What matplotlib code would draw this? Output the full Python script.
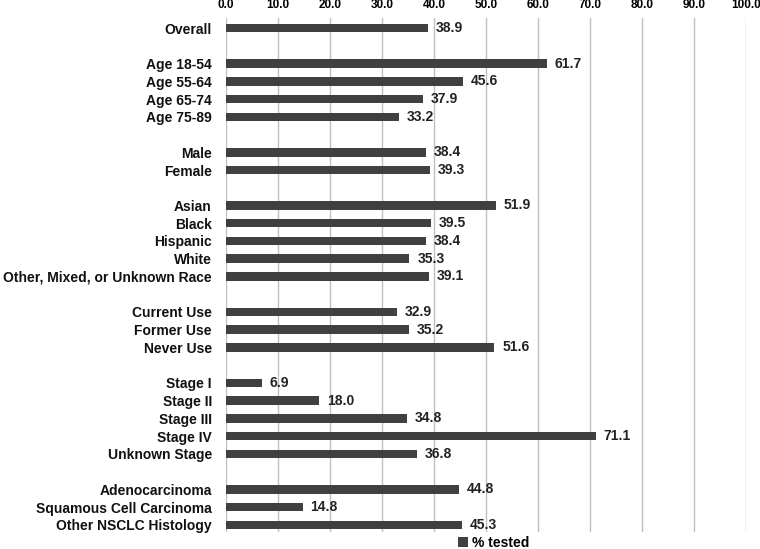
import numpy as np
import matplotlib.pyplot as plt

plt.rcParams['font.family'] = ['Liberation Sans', 'DejaVu Sans']

groups = [
    ["Overall"],
    ["Age 18-54", "Age 55-64", "Age 65-74", "Age 75-89"],
    ["Male", "Female"],
    ["Asian", "Black", "Hispanic", "White", "Other, Mixed, or Unknown Race"],
    ["Current Use", "Former Use", "Never Use"],
    ["Stage I", "Stage II", "Stage III", "Stage IV", "Unknown Stage"],
    ["Adenocarcinoma", "Squamous Cell Carcinoma", "Other NSCLC Histology"],
]
values = [
    [38.9],
    [61.7, 45.6, 37.9, 33.2],
    [38.4, 39.3],
    [51.9, 39.5, 38.4, 35.3, 39.1],
    [32.9, 35.2, 51.6],
    [6.9, 18.0, 34.8, 71.1, 36.8],
    [44.8, 14.8, 45.3],
]
xticks = np.arange(0, 101, 10)

# slot positions with a blank row between groups
labels, vals, pos = [], [], []
slot = 0
for g, v in zip(groups, values):
    for lab, val in zip(g, v):
        labels.append(lab)
        vals.append(val)
        pos.append(slot)
        slot += 1
    slot += 1

fig = plt.figure(figsize=(7.6, 5.49), dpi=100)
ax = fig.add_axes([0.297, 0.031, 0.685, 0.936])

bars = ax.barh(pos, vals, height=0.48, color='#404040', label='% tested', zorder=3)
for p, v in zip(pos, vals):
    ax.text(v + 1.5, p, f"{v:.1f}", va='center', ha='left', fontsize=10,
            fontweight='bold', color='#222222')

ax.set_xlim(0, 100)
ax.set_ylim(pos[-1] + 0.4, -0.56)
ax.set_xticks(xticks)
ax.set_xticklabels([f"{t:.1f}" for t in xticks], fontsize=8.5, fontweight='bold')
ax.xaxis.tick_top()
ax.set_yticks(pos)
ax.set_yticklabels(labels, fontsize=10, fontweight='bold', color='#111111')
ax.tick_params(axis='y', length=0, pad=10)
ax.tick_params(axis='x', length=0, pad=5)
ax.grid(axis='x', color='#bfbfbf', linewidth=1, zorder=0)
for s in ax.spines.values():
    s.set_visible(False)

fig.legend(handles=[bars], labels=['% tested'], loc='center',
           bbox_to_anchor=(0.65, 1 - 543 / 549), frameon=False,
           prop={'weight': 'bold', 'size': 10}, handlelength=0.7,
           handleheight=0.7, handletextpad=0.3)

fig.savefig('out.png', dpi=100)
